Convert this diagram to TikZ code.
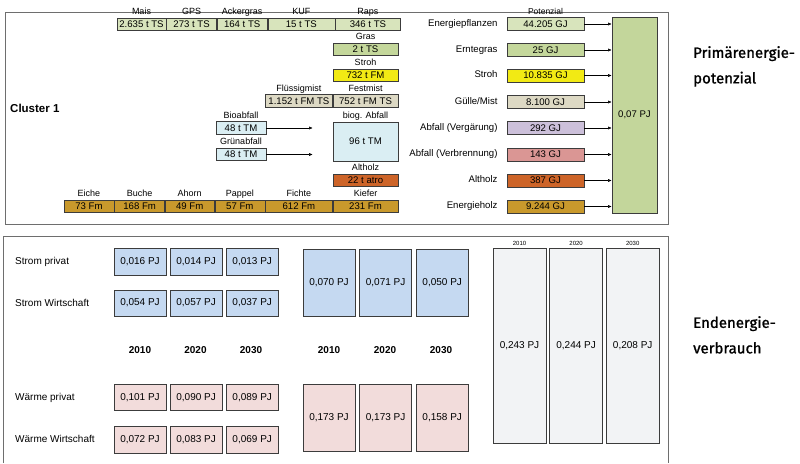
\documentclass[tikz,border=0pt]{standalone}
\usepackage{fontspec}
\setmainfont{Liberation Sans}
\newfontfamily\headfont[FakeBold=1.2]{Fira Sans}
\usetikzlibrary{positioning, arrows.meta}

\definecolor{framegray}{HTML}{6E6E6E}
\definecolor{boxline}{HTML}{3C3C3C}
\definecolor{energie}{HTML}{D8E4BC}
\definecolor{gras}{HTML}{C4D79B}
\definecolor{stroh}{HTML}{F2EA14}
\definecolor{mist}{HTML}{DDD9C4}
\definecolor{bioab}{HTML}{DAEEF3}
\definecolor{vergaerung}{HTML}{CCC0DA}
\definecolor{verbrennung}{HTML}{DA9694}
\definecolor{altholz}{HTML}{CD6428}
\definecolor{holz}{HTML}{C9992C}
\definecolor{gesamtgruen}{HTML}{C3D69B}
\definecolor{strom}{HTML}{C5D9F1}
\definecolor{waerme}{HTML}{F2DCDB}
\definecolor{gesamt}{HTML}{F2F3F5}

\begin{document}
\begin{tikzpicture}[x=1pt, y=-1pt, node distance=1pt and 9pt,
  box/.style={draw=boxline, line width=0.6pt, inner sep=0pt, minimum height=12.5pt, font=\fontsize{9.6}{11}\selectfont},
  lbl/.style={inner sep=0pt, text height=6.5pt, text depth=2pt, font=\fontsize{9}{10}\selectfont},
  klein/.style={box, minimum width=52pt, minimum height=26.5pt, font=\fontsize{10}{12}\selectfont},
  gross/.style={klein, minimum height=67pt},
  saeule/.style={klein, fill=gesamt, minimum width=53pt, minimum height=195pt},
  row/.style={anchor=west, inner sep=0pt, font=\fontsize{10}{12}\selectfont},
  year/.style={inner sep=0pt, font=\fontsize{10}{12}\selectfont\bfseries},
  head/.style={anchor=north west, inner sep=0pt, align=left, font=\headfont\fontsize{15}{25.5}\selectfont},
  arrow/.style={-{Latex[length=3.5pt, width=3pt]}, line width=0.5pt}]

  \useasboundingbox (0,0) rectangle (800,463);

  \draw[framegray, line width=0.8pt] (5,12) rectangle (668,224);
  \node[anchor=west, inner sep=0pt, font=\fontsize{11.5}{13}\selectfont\bfseries] (cluster) at (10,108) {Cluster 1};

  \node[box, fill=energie, minimum width=49pt] (mais) at (141.5,24.5) {2.635 t TS};
  \node[box, fill=energie, minimum width=50pt, right=0pt of mais] (gps) {273 t TS};
  \node[box, fill=energie, minimum width=50pt, right=0pt of gps] (ackergras) {164 t TS};
  \node[box, fill=energie, minimum width=67pt, right=0pt of ackergras] (kuf) {15 t TS};
  \node[box, fill=energie, minimum width=65pt, right=0pt of kuf] (raps) {346 t TS};
  \node[lbl, above=of mais] (maislbl) {Mais};
  \node[lbl, above=of gps] (gpslbl) {GPS};
  \node[lbl, above=of ackergras] (ackergraslbl) {Ackergras};
  \node[lbl, above=of kuf] (kuflbl) {KUF};
  \node[lbl, above=of raps] (rapslbl) {Raps};

  \node[box, fill=gras, minimum width=65pt] (gras) at (365.5,49.5) {2 t TS};
  \node[lbl, above=of gras] (graslbl) {Gras};

  \node[box, fill=stroh, minimum width=65pt] (stroh) at (365.5,75.5) {732 t FM};
  \node[lbl, above=of stroh] (strohlbl) {Stroh};

  \node[box, fill=mist, minimum width=65pt] (festmist) at (365.5,101) {752 t FM TS};
  \node[box, fill=mist, minimum width=67pt, left=0pt of festmist] (fluessigmist) {1.152 t FM TS};
  \node[lbl, above=of festmist] (festmistlbl) {Festmist};
  \node[lbl, above=of fluessigmist] (fluessigmistlbl) {Flüssigmist};

  \node[box, fill=bioab, minimum width=65pt, minimum height=39pt] (biogabfall) at (365.5,141.5) {96 t TM};
  \node[lbl, above=of biogabfall] (biogabfalllbl) {biog. Abfall};
  \node[box, fill=bioab, minimum width=50pt] (bioabfall) at (241,128) {48 t TM};
  \node[box, fill=bioab, minimum width=50pt] (gruenabfall) at (241,154.5) {48 t TM};
  \node[lbl, above=of bioabfall] (bioabfalllbl) {Bioabfall};
  \node[lbl, above=of gruenabfall] (gruenabfalllbl) {Grünabfall};
  \draw[arrow, shorten >=20pt] (bioabfall) -- (bioabfall -| biogabfall.west);
  \draw[arrow, shorten >=20pt] (gruenabfall) -- (gruenabfall -| biogabfall.west);

  \node[box, fill=altholz, minimum width=65pt] (altholz) at (365.5,180.5) {22 t atro};
  \node[lbl, above=of altholz] (altholzlbl) {Altholz};

  \node[box, fill=holz, minimum width=65pt] (kiefer) at (365.5,206.5) {231 Fm};
  \node[box, fill=holz, minimum width=67pt, left=0pt of kiefer] (fichte) {612 Fm};
  \node[box, fill=holz, minimum width=50pt, left=0pt of fichte] (pappel) {57 Fm};
  \node[box, fill=holz, minimum width=49pt, left=0pt of pappel] (ahorn) {49 Fm};
  \node[box, fill=holz, minimum width=50pt, left=0pt of ahorn] (buche) {168 Fm};
  \node[box, fill=holz, minimum width=50pt, left=0pt of buche] (eiche) {73 Fm};
  \node[lbl, above=of kiefer] (kieferlbl) {Kiefer};
  \node[lbl, above=of fichte] (fichtelbl) {Fichte};
  \node[lbl, above=of pappel] (pappellbl) {Pappel};
  \node[lbl, above=of ahorn] (ahornlbl) {Ahorn};
  \node[lbl, above=of buche] (buchelbl) {Buche};
  \node[lbl, above=of eiche] (eichelbl) {Eiche};

  \node[box, fill=gesamtgruen, minimum width=45pt, minimum height=196pt] (total) at (634.5,115) {0,07 PJ};

  \node[box, fill=energie, minimum width=77pt, minimum height=13pt] (epf) at (545.5,24) {44.205 GJ};
  \node[box, fill=gras, minimum width=77pt, minimum height=13pt] (egras) at (545.5,50) {25 GJ};
  \node[box, fill=stroh, minimum width=77pt, minimum height=13pt] (estroh) at (545.5,75.5) {10.835 GJ};
  \node[box, fill=mist, minimum width=77pt, minimum height=13pt] (emist) at (545.5,102) {8.100 GJ};
  \node[box, fill=vergaerung, minimum width=77pt, minimum height=13pt] (evg) at (545.5,128) {292 GJ};
  \node[box, fill=verbrennung, minimum width=77pt, minimum height=13pt] (evb) at (545.5,154.5) {143 GJ};
  \node[box, fill=altholz, minimum width=77pt, minimum height=13pt] (ealtholz) at (545.5,180.5) {387 GJ};
  \node[box, fill=holz, minimum width=77pt, minimum height=13pt] (eholz) at (545.5,206.5) {9.244 GJ};
  \node[lbl, above=of epf, font=\fontsize{8.5}{10}\selectfont] (potlbl) {Potenzial};
  \node[lbl, left=of epf, font=\fontsize{9.6}{11}\selectfont] (epflbl) {Energiepflanzen};
  \node[lbl, left=of egras, font=\fontsize{9.6}{11}\selectfont] (egraslbl) {Erntegras};
  \node[lbl, left=of estroh, font=\fontsize{9.6}{11}\selectfont] (estrohlbl) {Stroh};
  \node[lbl, left=of emist, font=\fontsize{9.6}{11}\selectfont] (emistlbl) {Gülle/Mist};
  \node[lbl, left=of evg, font=\fontsize{9.6}{11}\selectfont] (evglbl) {Abfall (Vergärung)};
  \node[lbl, left=of evb, font=\fontsize{9.6}{11}\selectfont] (evblbl) {Abfall (Verbrennung)};
  \node[lbl, left=of ealtholz, font=\fontsize{9.6}{11}\selectfont] (ealtholzlbl) {Altholz};
  \node[lbl, left=of eholz, font=\fontsize{9.6}{11}\selectfont] (eholzlbl) {Energieholz};
  \draw[arrow] (epf) -- (epf -| total.west);
  \draw[arrow] (egras) -- (egras -| total.west);
  \draw[arrow] (estroh) -- (estroh -| total.west);
  \draw[arrow] (emist) -- (emist -| total.west);
  \draw[arrow] (evg) -- (evg -| total.west);
  \draw[arrow] (evb) -- (evb -| total.west);
  \draw[arrow] (ealtholz) -- (ealtholz -| total.west);
  \draw[arrow] (eholz) -- (eholz -| total.west);

  \node[head] (primaer) at (693,46) {Primärenergie-\\potenzial};

  \draw[framegray, line width=0.8pt] (3,463) |- (668,236) -- (668,463);

  \node[row] (sprivlbl) at (15,262) {Strom privat};
  \node[row] (swirtlbl) at (15,302.5) {Strom Wirtschaft};
  \node[row] (wprivlbl) at (15,397.5) {Wärme privat};
  \node[row] (wwirtlbl) at (15,439) {Wärme Wirtschaft};

  \node[klein, fill=strom] (sp10) at (140,262) {0,016 PJ};
  \node[klein, fill=strom, right=3.5pt of sp10] (sp20) {0,014 PJ};
  \node[klein, fill=strom, right=3.5pt of sp20] (sp30) {0,013 PJ};
  \node[klein, fill=strom, below=14pt of sp10] (sw10) {0,054 PJ};
  \node[klein, fill=strom, right=3.5pt of sw10] (sw20) {0,057 PJ};
  \node[klein, fill=strom, right=3.5pt of sw20] (sw30) {0,037 PJ};

  \node[klein, fill=waerme] (wp10) at (140,397.5) {0,101 PJ};
  \node[klein, fill=waerme, right=3.5pt of wp10] (wp20) {0,090 PJ};
  \node[klein, fill=waerme, right=3.5pt of wp20] (wp30) {0,089 PJ};
  \node[klein, fill=waerme, below=15pt of wp10] (ww10) {0,072 PJ};
  \node[klein, fill=waerme, right=3.5pt of ww10] (ww20) {0,083 PJ};
  \node[klein, fill=waerme, right=3.5pt of ww20] (ww30) {0,069 PJ};

  \node[year] (y10) at (140,350) {2010};
  \node[year] (y20) at (195.5,350) {2020};
  \node[year] (y30) at (251,350) {2030};

  \node[gross, fill=strom] (s10) at (329,282.5) {0,070 PJ};
  \node[gross, fill=strom, right=4pt of s10] (s20) {0,071 PJ};
  \node[gross, fill=strom, right=4pt of s20] (s30) {0,050 PJ};
  \node[gross, fill=waerme] (w10) at (329,418) {0,173 PJ};
  \node[gross, fill=waerme, right=4pt of w10] (w20) {0,173 PJ};
  \node[gross, fill=waerme, right=4pt of w20] (w30) {0,158 PJ};

  \node[year] (ys10) at (329,350) {2010};
  \node[year] (ys20) at (385,350) {2020};
  \node[year] (ys30) at (441,350) {2030};

  \node[saeule] (g10) at (519.5,345.5) {0,243 PJ};
  \node[saeule, right=3pt of g10] (g20) {0,244 PJ};
  \node[saeule, right=3pt of g20] (g30) {0,208 PJ};
  \node[inner sep=0pt, above=2pt of g10, font=\fontsize{6}{7}\selectfont] (yg10) {2010};
  \node[inner sep=0pt, above=2pt of g20, font=\fontsize{6}{7}\selectfont] (yg20) {2020};
  \node[inner sep=0pt, above=2pt of g30, font=\fontsize{6}{7}\selectfont] (yg30) {2030};

  \node[head] (enden) at (693,316) {Endenergie-\\verbrauch};
\end{tikzpicture}
\end{document}
